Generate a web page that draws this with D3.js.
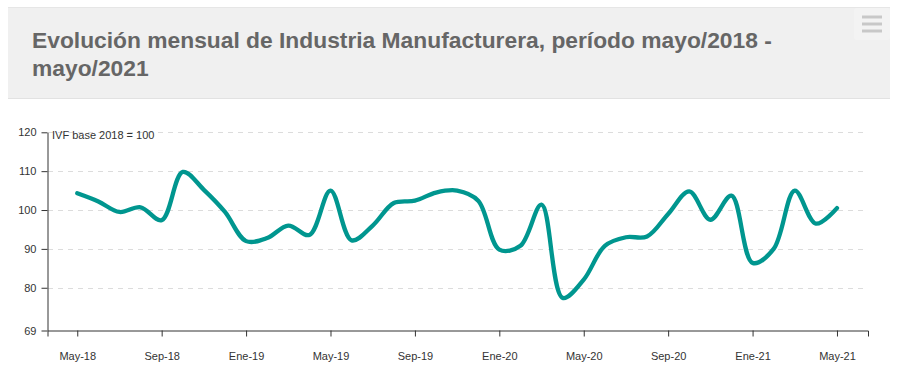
<!DOCTYPE html>
<html>
<head>
<meta charset="utf-8">
<script src="https://cdn.jsdelivr.net/npm/d3@7"></script>
<style>
  html, body { margin: 0; padding: 0; background: #fff; }
  svg { display: block; font-family: "Liberation Sans", Arial, sans-serif; }
</style>
</head>
<body>
<svg id="chart" width="898" height="377"></svg>
<script>
const months = ["May-18","Jun-18","Jul-18","Ago-18","Sep-18","Oct-18","Nov-18","Dic-18",
  "Ene-19","Feb-19","Mar-19","Abr-19","May-19","Jun-19","Jul-19","Ago-19","Sep-19","Oct-19","Nov-19","Dic-19",
  "Ene-20","Feb-20","Mar-20","Abr-20","May-20","Jun-20","Jul-20","Ago-20","Sep-20","Oct-20","Nov-20","Dic-20",
  "Ene-21","Feb-21","Mar-21","Abr-21","May-21"];
const ivf = [104.3,102.2,99.5,100.7,97.4,109.8,105.2,99.5,
  92.0,92.8,96.0,93.6,105.0,92.2,96.0,101.8,102.4,104.5,105.0,102.4,
  89.8,90.8,101.4,77.4,82.1,90.8,93.0,93.2,99.0,104.8,97.5,103.7,
  86.4,90.0,105.0,96.5,100.5];
const yTicks = [69,80,90,100,110,120];
const xTickLabels = ["May-18","Sep-18","Ene-19","May-19","Sep-19","Ene-20","May-20","Sep-20","Ene-21","May-21"];
const titleLines = ["Evolución mensual de Industria Manufacturera, período mayo/2018 -", "mayo/2021"];
const unitLabel = "IVF base 2018 = 100";

const svg = d3.select("#chart");

// Title panel
svg.append("rect").attr("x", 8).attr("y", 7).attr("width", 882).attr("height", 92)
  .attr("fill", "#f0f0f0");
svg.append("line").attr("x1", 8).attr("x2", 890).attr("y1", 7.5).attr("y2", 7.5).attr("stroke", "#e6e6e6");
svg.append("line").attr("x1", 8).attr("x2", 890).attr("y1", 98.5).attr("y2", 98.5).attr("stroke", "#e2e2e2");
svg.append("rect").attr("x", 854).attr("y", 8).attr("width", 36).attr("height", 32).attr("fill", "#f3f3f3").attr("rx", 3);
[17, 24, 31].forEach(y => {
  svg.append("line").attr("x1", 862).attr("x2", 882).attr("y1", y).attr("y2", y)
    .attr("stroke", "#c8c8c8").attr("stroke-width", 3);
});
const title = svg.append("text").attr("fill", "#666").attr("font-size", 22.8).attr("font-weight", "bold");
titleLines.forEach((t, i) => {
  title.append("tspan").attr("x", 32).attr("y", 48 + i * 28).text(t);
});

// Scales
const x = d3.scaleLinear().domain([-1.41, 37.47]).range([47.5, 868]);
const y = d3.scaleLinear().domain([69, 120]).range([330.5, 132.3]);

// Gridlines
svg.append("g").selectAll("line").data(yTicks.filter(d => d !== 69)).join("line")
  .attr("x1", 48).attr("x2", 866)
  .attr("y1", d => Math.round(y(d)) + 0.5).attr("y2", d => Math.round(y(d)) + 0.5)
  .attr("stroke", "#dcdcdc").attr("stroke-dasharray", "5,5");

// X axis
const xAxis = d3.axisBottom(x)
  .tickValues(xTickLabels.map(l => months.indexOf(l)))
  .tickFormat(i => months[i])
  .tickSize(6).tickSizeOuter(6).tickPadding(16);
const gx = svg.append("g").attr("transform", "translate(0,330.5)").call(xAxis);
gx.selectAll("path, line").attr("stroke", "#333");
gx.selectAll("text").attr("fill", "#333").attr("font-size", 11);

// Y axis
const yAxis = d3.axisLeft(y).tickValues(yTicks).tickSize(6).tickSizeOuter(0).tickPadding(5);
const gy = svg.append("g").attr("transform", "translate(47.5,0)").call(yAxis);
gy.selectAll("path, line").attr("stroke", "#333");
gy.selectAll("text").attr("fill", "#333").attr("font-size", 11);

svg.append("text").attr("x", 52).attr("y", 139).attr("font-size", 11).attr("fill", "#333").text(unitLabel);

// Line
const line = d3.line().x((d, i) => x(i)).y(d => y(d)).curve(d3.curveCatmullRom.alpha(0.5));
svg.append("path").datum(ivf).attr("d", line)
  .attr("fill", "none").attr("stroke", "#00968f").attr("stroke-width", 4.3)
  .attr("stroke-linejoin", "round").attr("stroke-linecap", "round");
</script>
</body>
</html>
